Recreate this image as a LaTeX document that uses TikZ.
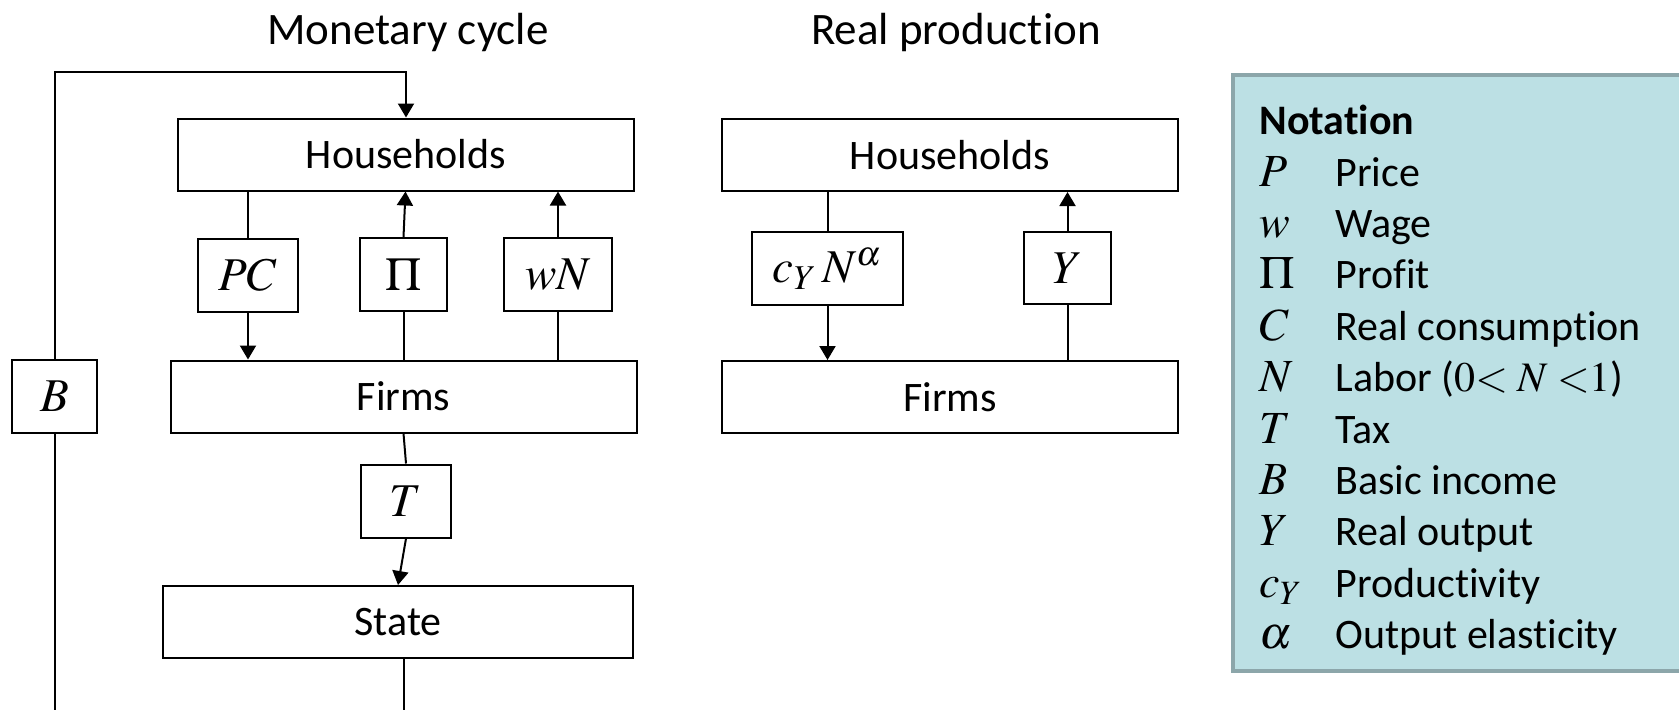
\documentclass[tikz,border=0pt]{standalone}
\usepackage{mathptmx}
\usepackage[no-math]{fontspec}
\setmainfont{Carlito}[RawFeature=-liga,RawFeature=-clig,RawFeature=-calt,RawFeature=-dlig]
\usetikzlibrary{arrows.meta}

\definecolor{notefill}{RGB}{188,224,228}
\definecolor{noteline}{RGB}{140,166,170}

\begin{document}
\begin{tikzpicture}[x=0.5pt,y=-0.5pt,
    every node/.style={font=\fontsize{21}{25}\selectfont},
    sector/.style={draw,line width=1pt,minimum height=36pt,inner sep=0pt},
    flow/.style={draw,line width=1pt,minimum height=36.5pt,inner sep=0pt,
      font=\fontsize{23.5}{28}\selectfont},
    wire/.style={line width=1pt},
    arr/.style={line width=1pt,-{Triangle[length=7pt,width=8pt]}},
    title/.style={font=\fontsize{22.5}{27}\selectfont}]
  \useasboundingbox (0,0) rectangle (1679,709);
  \clip (0,0) rectangle (1679,709);

  % titles
  \node[title] (montitle) at (408,32) {Monetary cycle};
  \node[title] (realtitle) at (956,32) {Real production};

  % monetary cycle
  \node[sector,minimum width=228pt] (hhL) at (406,154.5) {Households};
  \node[sector,minimum width=233pt] (firmsL) at (403.5,396.5) {Firms};
  \node[sector,minimum width=235pt] (state) at (398,622) {State};
  \node[flow,minimum width=50pt] (pc) at (248,275.5) {$PC$};
  \node[flow,minimum width=43.5pt] (pi) at (403.5,274.5) {$\Pi$};
  \node[flow,minimum width=54pt] (wn) at (558,274.5) {$wN$};
  \node[flow,minimum width=45pt] (tax) at (406,501) {$T$};
  \node[flow,minimum width=42.5pt] (bi) at (54.5,396.5) {$B$};

  \draw[wire] (pc |- hhL.south) -- (pc.north);
  \draw[arr] (pc.south) -- (pc |- firmsL.north);
  \draw[wire] (pi |- firmsL.north) -- (pi.south);
  \draw[arr] (pi.north) -- ([xshift=1pt]pi |- hhL.south);
  \draw[wire] (wn |- firmsL.north) -- (wn.south);
  \draw[arr] (wn.north) -- (wn |- hhL.south);
  \draw[wire] (firmsL.south) -- (tax.north);
  \draw[arr] (tax.south) -- (state.north);
  % basic income loop
  \draw[wire] ([xshift=3pt]state.south) -- ++(0,80) -| (bi.south);
  \draw[arr] (bi.north) |- ([yshift=23pt]hhL.north) -- (hhL.north);

  % real production
  \node[sector,minimum width=228pt] (hhR) at (950,155) {Households};
  \node[sector,minimum width=228pt] (firmsR) at (950,397) {Firms};
  \node[flow,minimum width=75.5pt] (cyn) at (827.5,268.5) {$c_Y\,N^{\alpha}$};
  \node[flow,minimum width=43.5pt,minimum height=36pt] (out) at (1067.5,268) {$Y$};

  \draw[wire] (cyn |- hhR.south) -- (cyn.north);
  \draw[arr] (cyn.south) -- (cyn |- firmsR.north);
  \draw[wire] (out |- firmsR.north) -- (out.south);
  \draw[arr] (out.north) -- (out |- hhR.south);

  % notation panel
  \draw[noteline,fill=notefill,line width=2pt] (1233,75) rectangle (1720,671);
  \node[anchor=base west,inner sep=0pt,font=\bfseries\fontsize{21}{25}\selectfont]
    (nottitle) at (1259,134) {Notation};
  \foreach \sym/\txt [count=\i] in {P/Price, w/Wage, \Pi/Profit,
      C/Real consumption, N/{Labor (${0{<}}\;N\;{<}1$)}, T/Tax,
      B/Basic income, Y/Real output, c_Y/Productivity, \alpha/Output elasticity}{
    \node[anchor=base west,inner sep=0pt,font=\fontsize{23}{28}\selectfont]
      (sym\i) at (1259,{186+51.4*(\i-1)}) {$\sym$};
    \node[anchor=base west,inner sep=0pt] (txt\i) at (1335,{186+51.4*(\i-1)}) {\txt};
  }
\end{tikzpicture}
\end{document}
